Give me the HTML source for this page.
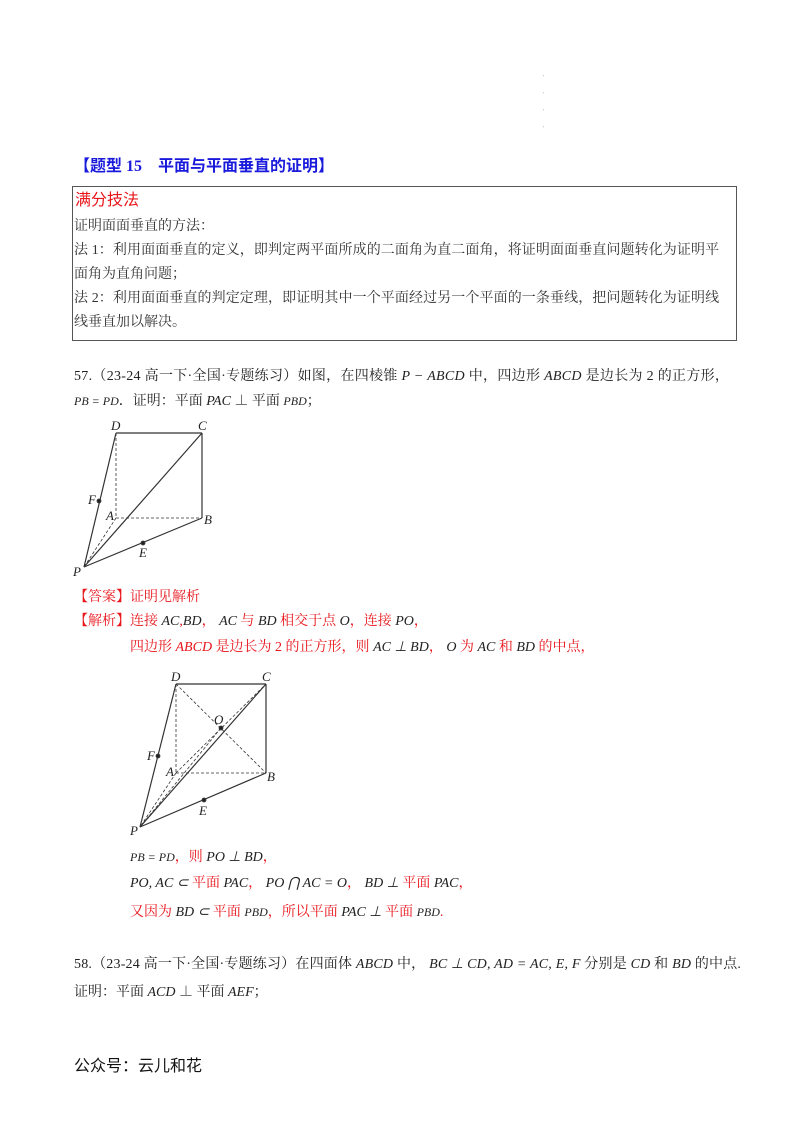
<!DOCTYPE html>
<html><head><meta charset="utf-8">
<style>
body{margin:0;background:#fff;}
#page{position:relative;width:800px;height:1132px;background:#fff;overflow:hidden;font-family:"Liberation Serif","Noto Serif CJK SC",serif;color:#222;}
.t{position:absolute;white-space:nowrap;font-size:14px;line-height:16px;}
.r{color:#e8151b;}
.m{font-family:"Liberation Serif",serif;font-style:italic;}
.b{color:#1a1adc;font-weight:bold;font-size:16px;font-family:"Liberation Serif","Noto Sans CJK SC",sans-serif;}
.g{color:#333;}
#box{position:absolute;left:72px;top:186px;width:663px;height:153px;border:1px solid #555;}
svg{position:absolute;left:0;top:0;}
svg text{font-family:"Liberation Serif",serif;font-style:italic;font-size:13px;fill:#222;}
</style></head><body>
<div id="page">
<div class="t" style="left:543px;top:70px;font-size:6px;color:#999;line-height:17px">'<br>'<br>'<br>'</div>
<div class="t b" style="left:74px;top:159px">【题型 15　平面与平面垂直的证明】</div>
<div id="box"></div>
<div class="t r" style="left:75px;top:192px;font-size:16px;line-height:18px;font-family:'Liberation Sans','Noto Sans CJK SC',sans-serif">满分技法</div>
<div class="t g" style="left:74px;top:219px">证明面面垂直的方法：</div>
<div class="t g" style="left:74px;top:243px;letter-spacing:0.1px">法 1：利用面面垂直的定义，即判定两平面所成的二面角为直二面角，将证明面面垂直问题转化为证明平</div>
<div class="t g" style="left:74px;top:267px">面角为直角问题；</div>
<div class="t g" style="left:74px;top:291px;letter-spacing:0.1px">法 2：利用面面垂直的判定定理，即证明其中一个平面经过另一个平面的一条垂线，把问题转化为证明线</div>
<div class="t g" style="left:74px;top:315px">线垂直加以解决。</div>

<div class="t" style="left:74px;top:369px;letter-spacing:0.3px">57.（23-24 高一下·全国·专题练习）如图，在四棱锥 <span class="m">P − ABCD</span> 中，四边形 <span class="m">ABCD</span> 是边长为 2 的正方形，</div>
<div class="t" style="left:74px;top:393px"><span class="m" style="font-size:12px">PB = PD</span>．证明：平面 <span class="m">PAC</span> ⊥ 平面 <span class="m" style="font-size:12px">PBD</span>；</div>

<svg width="800" height="1132">
<g stroke="#333" fill="none" stroke-width="1.2">
<line x1="116" y1="433" x2="202" y2="433"/><line x1="202" y1="433" x2="202" y2="518"/>
<line x1="84" y1="567" x2="116" y2="433"/><line x1="84" y1="567" x2="202" y2="433"/><line x1="84" y1="567" x2="202" y2="518"/>
<g stroke-dasharray="3,2" stroke-width="0.8"><line x1="116" y1="433" x2="116" y2="518"/><line x1="116" y1="518" x2="202" y2="518"/><line x1="116" y1="518" x2="84" y2="567"/></g>
<circle cx="99" cy="501" r="1.8" fill="#222"/><circle cx="143" cy="543" r="1.8" fill="#222"/>
</g>
<text x="111" y="430">D</text><text x="198" y="430">C</text><text x="88" y="504">F</text><text x="106" y="520">A</text><text x="204" y="524">B</text><text x="139" y="557">E</text><text x="73" y="576">P</text>
<g stroke="#333" fill="none" stroke-width="1.2">
<line x1="176" y1="684" x2="266" y2="684"/><line x1="266" y1="684" x2="266" y2="773"/>
<line x1="140" y1="827" x2="176" y2="684"/><line x1="140" y1="827" x2="266" y2="684"/><line x1="140" y1="827" x2="266" y2="773"/>
<g stroke-dasharray="3,2" stroke-width="0.8"><line x1="176" y1="684" x2="176" y2="773"/><line x1="176" y1="773" x2="266" y2="773"/><line x1="176" y1="773" x2="140" y2="827"/><line x1="176" y1="684" x2="266" y2="773"/><line x1="176" y1="773" x2="266" y2="684"/><line x1="140" y1="827" x2="221" y2="728"/></g>
<circle cx="221" cy="728" r="1.8" fill="#222"/><circle cx="158" cy="756" r="1.8" fill="#222"/><circle cx="204" cy="800" r="1.8" fill="#222"/>
</g>
<text x="171" y="681">D</text><text x="262" y="681">C</text><text x="214" y="724">O</text><text x="147" y="760">F</text><text x="166" y="776">A</text><text x="267" y="781">B</text><text x="199" y="815">E</text><text x="130" y="835">P</text>
</svg>

<div class="t r" style="left:74px;top:590px">【答案】证明见解析</div>
<div class="t r" style="left:74px;top:614px">【解析】连接 <span class="m" style="color:#222">AC</span>,<span class="m" style="color:#222">BD</span>， <span class="m" style="color:#222">AC</span> 与 <span class="m" style="color:#222">BD</span> 相交于点 <span class="m" style="color:#222">O</span>，连接 <span class="m" style="color:#222">PO</span>，</div>
<div class="t r" style="left:130px;top:640px">四边形 <span class="m">ABCD</span> 是边长为 2 的正方形，则 <span class="m" style="color:#222">AC ⊥ BD</span>， <span class="m" style="color:#222">O</span> 为 <span class="m" style="color:#222">AC</span> 和 <span class="m" style="color:#222">BD</span> 的中点，</div>
<div class="t r" style="left:130px;top:849px"><span class="m" style="color:#222;font-size:12px">PB = PD</span>，则 <span class="m" style="color:#222">PO ⊥ BD</span>，</div>
<div class="t r" style="left:130px;top:876px"><span class="m" style="color:#222">PO, AC ⊂</span> 平面 <span class="m" style="color:#222">PAC</span>， <span class="m" style="color:#222">PO ⋂ AC = O</span>， <span class="m" style="color:#222">BD ⊥</span> 平面 <span class="m" style="color:#222">PAC</span>，</div>
<div class="t r" style="left:130px;top:904px">又因为 <span class="m" style="color:#222">BD ⊂</span> 平面 <span class="m" style="color:#222;font-size:12px">PBD</span>，所以平面 <span class="m" style="color:#222">PAC ⊥</span> 平面 <span class="m" style="color:#222;font-size:12px">PBD</span>.</div>

<div class="t" style="left:74px;top:957px;letter-spacing:0.2px">58.（23-24 高一下·全国·专题练习）在四面体 <span class="m">ABCD</span> 中， <span class="m">BC ⊥ CD, AD = AC, E, F</span> 分别是 <span class="m">CD</span> 和 <span class="m">BD</span> 的中点.</div>
<div class="t" style="left:74px;top:985px">证明：平面 <span class="m">ACD</span> ⊥ 平面 <span class="m">AEF</span>；</div>

<div class="t" style="left:74px;top:1058px;font-size:16px;line-height:18px;font-family:'Liberation Sans','Noto Sans CJK SC',sans-serif;color:#111">公众号：云儿和花</div>
</div>
</body></html>
